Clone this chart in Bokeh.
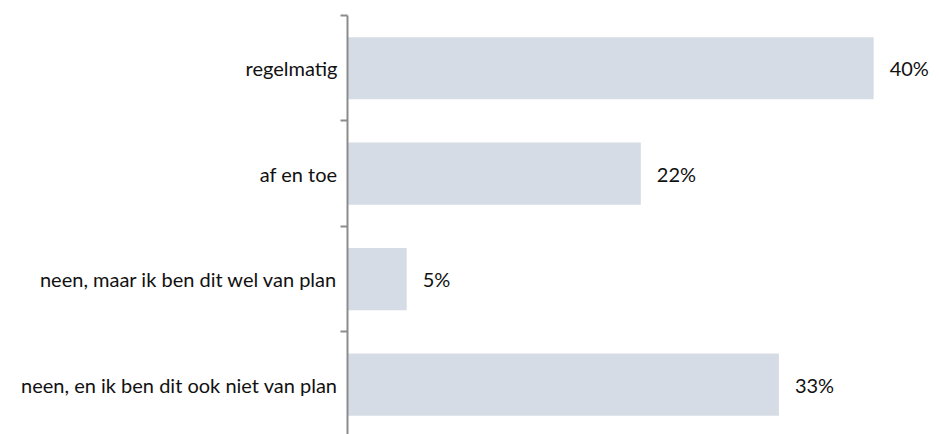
from bokeh.plotting import figure
from bokeh.models import ColumnDataSource, Range1d, FixedTicker, LinearAxis
from bokeh.core.properties import value
from bokeh.embed import file_html
from bokeh.resources import INLINE

categories = ["regelmatig", "af en toe", "neen, maar ik ben dit wel van plan", "neen, en ik ben dit ook niet van plan"]
values = [40.0, 22.3, 4.5, 32.8]
labels = ["40%", "22%", "5%", "33%"]

n = len(categories)
ys = [n - i - 0.5 for i in range(n)]
src = ColumnDataSource(dict(y=ys, v=values, lab=labels, cat=categories))

p = figure(width=939, height=434, output_backend="svg", toolbar_location=None,
           x_range=Range1d(0, 44.4), y_range=Range1d(n - 3.972, n),
           x_axis_location=None, y_axis_location=None,
           min_border_left=347, min_border_right=8, min_border_top=15, min_border_bottom=0)
p.outline_line_color = None
p.xgrid.visible = False
p.ygrid.visible = False

p.hbar(y="y", right="v", left=0, height=0.59, source=src, fill_color="#d6dce5", line_color=None)
p.text(x="v", y="y", text="lab", source=src, x_offset=16, text_align="left", text_baseline="middle",
       text_font=value("Lato"), text_font_size="20px", text_color="#111111")

ax = LinearAxis(ticker=FixedTicker(ticks=ys, minor_ticks=[float(k) for k in range(n + 1)]),
                major_label_overrides={y: c for y, c in zip(ys, categories)})
ax.major_tick_line_color = None
ax.major_tick_out = 0
ax.major_tick_in = 0
ax.minor_tick_line_color = "#8c8c8c"
ax.minor_tick_line_width = 2
ax.minor_tick_out = 7
ax.minor_tick_in = 0
ax.axis_line_color = "#8c8c8c"
ax.axis_line_width = 2
ax.major_label_standoff = 3
ax.major_label_text_font = "Lato"
ax.major_label_text_font_size = "20px"
ax.major_label_text_color = "#111111"
p.add_layout(ax, "left")

open("out.html", "w").write(file_html(p, INLINE))
